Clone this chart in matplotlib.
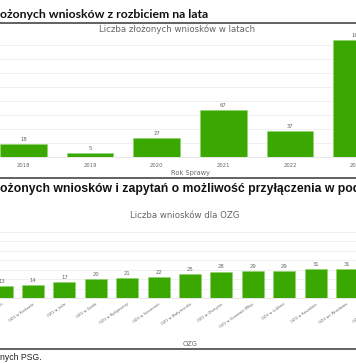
import matplotlib

matplotlib.use("Agg")

import matplotlib.pyplot as plt
import numpy as np

# ---------------------------------------------------------------------------
# Data
# ---------------------------------------------------------------------------
YEARS = ["2018", "2019", "2020", "2021", "2022", "2023"]
YEAR_COUNTS = [18, 5, 27, 67, 37, 166]

OZG_NAMES = [
    "OZG w Kielcach", "OZG w Krakowie", "OZG w Jaśle", "OZG w Opolu",
    "OZG w Bydgoszczy", "OZG w Szczecinie", "OZG w Białymstoku",
    "OZG w Olsztynie", "OZG w Gorzowie Wlkp.", "OZG w Lublinie",
    "OZG w Koszalinie", "OZG we Wrocławiu", "OZG w Rzeszowie",
]
OZG_COUNTS = [13, 14, 17, 20, 21, 22, 25, 28, 29, 29, 31, 31, 33]

HEAD_1 = "ożonych wniosków z rozbiciem na lata"
HEAD_2 = "ożonych wniosków i zapytań o możliwość przyłączenia w podziale"
TITLE_1 = "Liczba złożonych wniosków w latach"
TITLE_2 = "Liczba wniosków dla OZG"
FOOT = "nych PSG."

W_PX, H_PX = 356, 364
GREEN = "#3aa800"
EDGE = "#8fd46a"
GRAY = "#666666"
GRID = "#eeeeee"


def fx(px):
    return px / W_PX


def fy(py):
    return 1 - py / H_PX


def box(left, top, right, bottom):
    return [fx(left), fy(bottom), (right - left) / W_PX, (bottom - top) / H_PX]


def style_ax(ax):
    for s in ("top", "right", "left"):
        ax.spines[s].set_visible(False)
    ax.spines["bottom"].set_color("#dddddd")
    ax.spines["bottom"].set_linewidth(0.5)
    ax.tick_params(length=0, colors=GRAY)
    ax.set_yticklabels([])
    ax.grid(axis="y", color=GRID, lw=0.6)
    ax.set_axisbelow(True)


fig = plt.figure(figsize=(W_PX / 100, H_PX / 100), dpi=100)

# page rules
for y in (23, 178, 349):
    fig.add_artist(plt.Line2D([0, 1], [fy(y), fy(y)], color="#555555", lw=1.3))

fig.text(fx(0), fy(15), HEAD_1, fontsize=8.8, fontweight="bold",
         family="Lato", va="center", ha="left", color="#111111")
fig.text(fx(0), fy(189), HEAD_2, fontsize=8.85, fontweight="bold",
         family="Liberation Sans", va="center", ha="left", color="#111111")
fig.text(fx(0), fy(358), FOOT, fontsize=6.2, family="Liberation Sans",
         va="center", ha="left", color="#222222")

# ---------------------------------------------------------------------------
# 1. Per-year chart
# ---------------------------------------------------------------------------
ax1 = fig.add_axes(box(-10, 34, 390, 157))
x1 = np.arange(len(YEARS))
bars = ax1.bar(x1, YEAR_COUNTS, width=0.7, color=GREEN, edgecolor=EDGE, lw=0.4)
ax1.set_xlim(-0.5, len(YEARS) - 0.5)
ax1.set_ylim(0, 175)
ax1.set_yticks(np.arange(0, 175, 20))
ax1.set_xticks(x1)
ax1.set_xticklabels(YEARS, fontsize=3.8)
ax1.tick_params(axis="x", pad=4)
style_ax(ax1)
ax1.bar_label(bars, padding=1.5, fontsize=3.8, color=GRAY)
ax1.set_xlabel("Rok Sprawy", fontsize=4.8, color=GRAY, labelpad=2)
fig.text(fx(177), fy(29), TITLE_1, fontsize=6.2, color=GRAY,
         ha="center", va="center")

# ---------------------------------------------------------------------------
# 2. Per-OZG chart
# ---------------------------------------------------------------------------
pitch = 31.4
half = 350 / pitch
ax2 = fig.add_axes(box(190 - 350, 230, 190 + 350, 298))
x2 = np.arange(len(OZG_NAMES))
bars = ax2.bar(x2, OZG_COUNTS, width=0.7, color=GREEN, edgecolor=EDGE, lw=0.4)
ax2.set_xlim(6 - half, 6 + half)
ax2.set_ylim(0, 72)
ax2.set_yticks(np.arange(0, 72, 10))
ax2.set_xticks(x2)
ax2.set_xticklabels(OZG_NAMES, fontsize=2.6, rotation=35, ha="right",
                    rotation_mode="anchor")
ax2.tick_params(axis="x", pad=3)
style_ax(ax2)
ax2.bar_label(bars, padding=1.5, fontsize=3.8, color=GRAY)
ax2.set_xlabel("OZG", fontsize=4.8, color=GRAY, labelpad=8)
fig.text(fx(185), fy(216), TITLE_2, fontsize=6.2, color=GRAY,
         ha="center", va="center")

fig.savefig("out.png", dpi=100)
